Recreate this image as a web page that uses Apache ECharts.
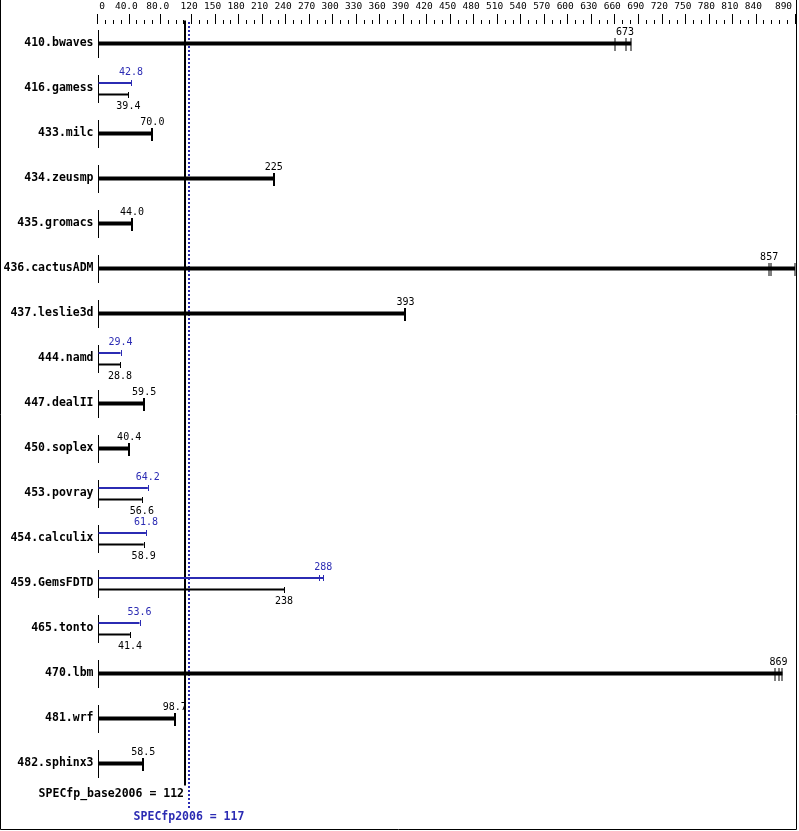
<!DOCTYPE html>
<html><head><meta charset="utf-8">
<script src="https://cdn.jsdelivr.net/npm/echarts@6/dist/echarts.min.js"></script>
<style>html,body{margin:0;padding:0;background:#fff}#c{width:799px;height:831px}</style>
</head><body><div id="c"></div>
<script>
const categories = ['410.bwaves','416.gamess','433.milc','434.zeusmp','435.gromacs','436.cactusADM','437.leslie3d','444.namd','447.dealII','450.soplex','453.povray','454.calculix','459.GemsFDTD','465.tonto','470.lbm','481.wrf','482.sphinx3'];
const baseValues = [673, 39.4, 70.0, 225, 44.0, 857, 393, 28.8, 59.5, 40.4, 56.6, 58.9, 238, 41.4, 869, 98.7, 58.5];
const peakValues = [null, 42.8, null, null, null, null, null, 29.4, null, null, 64.2, 61.8, 288, 53.6, null, null, null];
const baseRuns = [[660, 674, 681], null, null, null, null, [857, 860, 890], null, null, null, null, null, null, null, null, [865, 870, 874], null, null];
const peakRuns = [null, null, null, null, null, null, null, null, null, null, null, null, [283, 288], null, null, null, null];
const xTickValues = [0, 40, 80, 120, 150, 180, 210, 240, 270, 300, 330, 360, 390, 420, 450, 480, 510, 540, 570, 600, 630, 660, 690, 720, 750, 780, 810, 840, 890];
const xTickLabels = ['0', '40.0', '80.0', '120', '150', '180', '210', '240', '270', '300', '330', '360', '390', '420', '450', '480', '510', '540', '570', '600', '630', '660', '690', '720', '750', '780', '810', '840', '890'];
const summaryBase = 112;
const summaryPeak = 117;
const summaryBaseLabel = 'SPECfp_base2006 = 112';
const summaryPeakLabel = 'SPECfp2006 = 117';
const xMin = 0, xMax = 890, minorStep = 10;

const BLUE = '#2b2bb3';
const MONO = '"DejaVu Sans Mono", "Liberation Mono", monospace';
const minorTicks = [];
for (let v = xMin; v <= xMax; v += minorStep) minorTicks.push(v);

function fmt(v) { return v < 100 ? v.toFixed(1) : String(Math.round(v)); }

function renderRow(params, api) {
  const i = api.value(1);
  const p0 = api.coord([0, i]);
  const x0 = Math.round(p0[0]) + 0.5, cy = Math.round(p0[1]);
  const ch = [];
  ch.push({type: 'line', shape: {x1: x0, y1: cy - 13, x2: x0, y2: cy + 15}, style: {stroke: '#000', lineWidth: 1}});
  const b = baseValues[i], p = peakValues[i];
  if (p == null) {
    const runs = baseRuns[i] || [b];
    const xe = api.coord([Math.max.apply(null, runs), i])[0];
    ch.push({type: 'rect', shape: {x: x0, y: cy - 1.5, width: xe - x0, height: 4}, style: {fill: '#000'}});
    runs.forEach(r => {
      const xr = Math.round(api.coord([r, i])[0]);
      ch.push({type: 'line', shape: {x1: xr, y1: cy - 5, x2: xr, y2: cy + 8}, style: {stroke: '#000', lineWidth: runs.length > 1 ? 1 : 2}});
    });
    ch.push({type: 'text', style: {text: fmt(b), x: api.coord([b, i])[0], y: cy - 11, align: 'center', verticalAlign: 'middle', font: '10px ' + MONO, fill: '#000'}});
  } else {
    const pr = peakRuns[i] || [p];
    const xp = api.coord([Math.max.apply(null, pr), i])[0];
    ch.push({type: 'line', shape: {x1: x0, y1: cy - 5, x2: xp, y2: cy - 5}, style: {stroke: BLUE, lineWidth: 2}});
    pr.forEach(r => {
      const xr = Math.round(api.coord([r, i])[0]) + 0.5;
      ch.push({type: 'line', shape: {x1: xr, y1: cy - 8, x2: xr, y2: cy - 2}, style: {stroke: BLUE, lineWidth: 1}});
    });
    ch.push({type: 'text', style: {text: fmt(p), x: api.coord([p, i])[0], y: cy - 16, align: 'center', verticalAlign: 'middle', font: '10px ' + MONO, fill: BLUE}});
    const br = baseRuns[i] || [b];
    const xb = api.coord([Math.max.apply(null, br), i])[0];
    ch.push({type: 'line', shape: {x1: x0, y1: cy + 6.5, x2: xb, y2: cy + 6.5}, style: {stroke: '#000', lineWidth: 2}});
    br.forEach(r => {
      const xr = Math.round(api.coord([r, i])[0]) + 0.5;
      ch.push({type: 'line', shape: {x1: xr, y1: cy + 4, x2: xr, y2: cy + 10}, style: {stroke: '#000', lineWidth: 1}});
    });
    ch.push({type: 'text', style: {text: fmt(b), x: api.coord([b, i])[0], y: cy + 18, align: 'center', verticalAlign: 'middle', font: '10px ' + MONO, fill: '#000'}});
  }
  return {type: 'group', children: ch};
}

function renderSummary(params, api) {
  const cs = params.coordSys;
  const xb = Math.round(api.coord([summaryBase, 0])[0]);
  const xp = Math.round(api.coord([summaryPeak, 0])[0]);
  const bottom = cs.y + cs.height;
  return {type: 'group', children: [
    {type: 'line', shape: {x1: xb, y1: cs.y, x2: xb, y2: bottom}, style: {stroke: '#000', lineWidth: 2}},
    {type: 'line', shape: {x1: xp, y1: cs.y + 1.5, x2: xp, y2: bottom + 22.5}, style: {stroke: BLUE, lineWidth: 2, lineDash: [2, 2]}},
    {type: 'text', style: {text: summaryBaseLabel, x: xb - 1, y: bottom + 9, align: 'right', verticalAlign: 'middle', font: 'bold 11.5px ' + MONO, fill: '#000'}},
    {type: 'text', style: {text: summaryPeakLabel, x: xp, y: bottom + 31.5, align: 'center', verticalAlign: 'middle', font: 'bold 11.5px ' + MONO, fill: BLUE}}
  ]};
}

const LBL = {fontFamily: MONO, fontSize: 9.5, color: '#000'};
function labelKey(v) {
  if (v === xMin) return 'z';
  if (v === xMax) return 'l';
  return 'n';
}

const chart = echarts.init(document.getElementById('c'), null, {renderer: 'canvas'});
chart.setOption({
  animation: false,
  backgroundColor: '#fff',
  grid: {left: 97.5, right: 4, top: 20.5, bottom: 45.5, containLabel: false, outerBoundsMode: 'none'},
  xAxis: [
    {type: 'value', position: 'top', offset: -3.5, min: xMin, max: xMax,
     axisLine: {show: false}, splitLine: {show: false},
     axisTick: {show: true, length: 10, customValues: xTickValues, lineStyle: {color: '#000', width: 1}},
     axisLabel: {show: true, customValues: xTickValues, margin: 12, color: '#000', fontFamily: MONO, fontSize: 9.5,
       hideOverlap: false, showMinLabel: true, showMaxLabel: true,
       formatter: v => '{' + labelKey(v) + '|' + xTickLabels[xTickValues.indexOf(v)] + '}',
       rich: {
         z: Object.assign({padding: [0, 0, 0, 9]}, LBL),
         n: Object.assign({padding: [0, 5, 0, 0]}, LBL),
         l: Object.assign({padding: [0, 23, 0, 0]}, LBL)
       }}},
    {type: 'value', position: 'top', offset: -3.5, min: xMin, max: xMax,
     axisLine: {show: false}, splitLine: {show: false}, axisLabel: {show: false},
     axisTick: {show: true, length: 4, customValues: minorTicks, lineStyle: {color: '#000', width: 1}}}
  ],
  yAxis: {type: 'category', inverse: true, data: categories,
    axisLine: {show: false}, axisTick: {show: false}, splitLine: {show: false},
    axisLabel: {margin: 4, color: '#000', fontFamily: MONO, fontSize: 11.5, fontWeight: 'bold'}},
  series: [
    {type: 'custom', renderItem: renderSummary, data: [[summaryBase, 0]], clip: false, z: 1, silent: true},
    {type: 'custom', renderItem: renderRow, data: categories.map((c, i) => [0, i]), clip: false, z: 2, silent: true}
  ],
  graphic: [{type: 'rect', shape: {x: 0.5, y: -2, width: 796, height: 831.5}, style: {fill: null, stroke: '#000', lineWidth: 1}, silent: true}]
});
</script></body></html>
